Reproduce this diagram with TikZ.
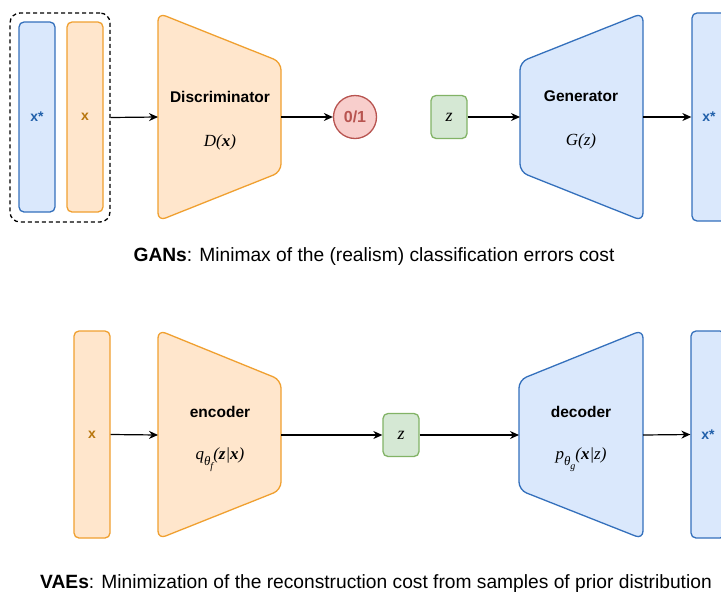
\documentclass[tikz,border=0pt]{standalone}
\usepackage{fontspec}
\setmainfont{Liberation Sans}
\newfontfamily\mf{Liberation Serif}
\usetikzlibrary{arrows.meta}
\definecolor{ofill}{HTML}{FFE6CC}
\definecolor{odraw}{HTML}{F0A030}
\definecolor{otext}{HTML}{B8760E}
\definecolor{bfill}{HTML}{DAE8FC}
\definecolor{bdraw}{HTML}{3470BC}
\definecolor{btext}{HTML}{2160AA}
\definecolor{gfill}{HTML}{D5E8D4}
\definecolor{gdraw}{HTML}{82B366}
\definecolor{rfill}{HTML}{F8CECC}
\definecolor{rdraw}{HTML}{B85450}
\tikzset{
  obox/.style={draw=odraw, fill=ofill, line width=1.3pt, rounded corners=5pt, text=otext, font=\fontsize{14}{16}\selectfont\bfseries, minimum width=36pt, inner sep=0pt},
  bbox/.style={draw=bdraw, fill=bfill, line width=1.3pt, rounded corners=5pt, text=btext, font=\fontsize{14}{16}\selectfont\bfseries, minimum width=36pt, inner sep=0pt},
  zbox/.style={draw=gdraw, fill=gfill, line width=1.3pt, rounded corners=5pt, minimum width=36pt, minimum height=43pt, inner sep=0pt, font=\fontsize{18}{20}\selectfont\mf\itshape},
  otrap/.style={draw=odraw, fill=ofill, line width=1.3pt, rounded corners=8pt},
  btrap/.style={draw=bdraw, fill=bfill, line width=1.3pt, rounded corners=8pt},
  title/.style={font=\fontsize{15.5}{18}\selectfont\bfseries},
  formula/.style={font=\fontsize{17}{19}\selectfont\mf\itshape},
  caption/.style={font=\fontsize{19.2}{22}\selectfont},
  arr/.style={-{Stealth[length=9pt,width=8pt]}, line width=1.2pt, black},
}
\begin{document}
\begin{tikzpicture}[x=1pt,y=-1pt]
\path[use as bounding box] (0,0) rectangle (721,595);
\clip (0,0) rectangle (721,595);
\fill[white] (0,0) rectangle (721,595);

% ---------- GAN row ----------
\node[draw, dashed, dash pattern=on 4pt off 3pt, line width=1.3pt, rounded corners=10pt,
      minimum width=100pt, minimum height=209pt] (grp) at (60,117.5) {};
\node[bbox, minimum height=190pt] (xs1) at (37,117) {x*};
\node[obox, minimum height=190pt] (x1) at (85,117) {x};

\draw[otrap] (158,13) -- (281,62) -- (281,172) -- (158,221) -- cycle;
\coordinate (discL) at (158,117);
\coordinate (discR) at (281,117);
\node[title] (disctitle) at (220,97) {Discriminator};
\node[formula] (discf) at (220,142) {D(\textbf{x})};

\node[circle, draw=rdraw, fill=rfill, line width=1.3pt, minimum size=43pt, inner sep=0pt,
      text=rdraw, font=\fontsize{16}{18}\selectfont\bfseries] (out) at (355,117) {0/1};

\node[zbox] (z1) at (449,117) {z};

\draw[btrap] (520,62) -- (643,13) -- (643,221) -- (520,172) -- cycle;
\coordinate (genL) at (520,117);
\coordinate (genR) at (643,117);
\node[title] (gentitle) at (581,96) {Generator};
\node[formula] (genf) at (581,141) {G(z)};

\node[bbox, minimum width=34pt, minimum height=208pt] (xs2) at (709,117) {x*};

\draw[arr] (grp.east) -- (discL);
\draw[arr] (discR) -- (out.west);
\draw[arr] (z1.east) -- (genL);
\draw[arr] (genR) -- (xs2.west);

\node[caption] (cap1) at (374,257) {\textbf{GANs}: Minimax of the (realism) classification errors cost};

% ---------- VAE row ----------
\node[obox, minimum height=207pt] (x2) at (92,434.5) {x};

\draw[otrap] (158,330) -- (281,380) -- (281,490) -- (158,539) -- cycle;
\coordinate (encL) at (158,435);
\coordinate (encR) at (281,435);
\node[title] (enctitle) at (220,412) {encoder};
\node[formula] (encf) at (220,460) {q\raisebox{-0.35em}{\fontsize{13}{15}\selectfont θ\raisebox{-0.3em}{\fontsize{10}{12}\selectfont f}}(\textbf{z}|\textbf{x})};

\node[zbox] (z2) at (401,435) {z};

\draw[btrap] (519,380) -- (643,330) -- (643,539) -- (519,490) -- cycle;
\coordinate (decL) at (519,435);
\coordinate (decR) at (643,435);
\node[title] (dectitle) at (581,412) {decoder};
\node[formula] (decf) at (581,460) {p\raisebox{-0.35em}{\fontsize{13}{15}\selectfont θ\raisebox{-0.3em}{\fontsize{10}{12}\selectfont g}}(\textbf{x}|z)};

\node[bbox, minimum width=34pt, minimum height=207pt] (xs3) at (708,434.5) {x*};

\draw[arr] (x2.east) -- (encL);
\draw[arr] (encR) -- (z2.west);
\draw[arr] (z2.east) -- (decL);
\draw[arr] (decR) -- (xs3.west);

\node[caption] (cap2) at (376,584) {\textbf{VAEs}: Minimization of the reconstruction cost from samples of prior distribution};
\end{tikzpicture}
\end{document}
